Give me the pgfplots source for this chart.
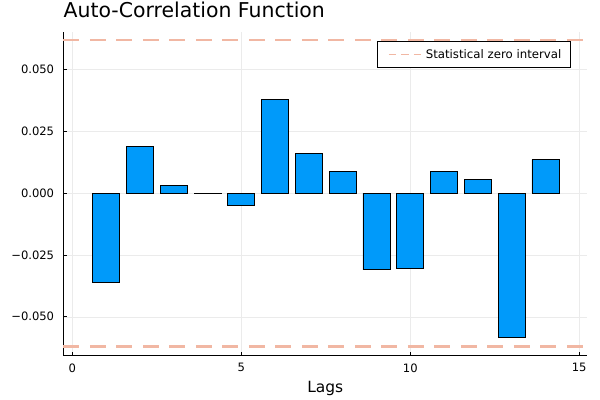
\documentclass[border=0pt]{standalone}
\usepackage{pgfplots}
\pgfplotsset{compat=1.18}
\usepackage{fontspec}
\setmainfont{DejaVu Sans}
\definecolor{barblue}{RGB}{0,154,250}
\definecolor{salmon}{RGB}{241,183,163}
\begin{document}
\begin{tikzpicture}
\useasboundingbox (0,0) rectangle (600bp,400bp);
\begin{axis}[
  at={(63.3bp,44.7bp)}, anchor=south west,
  scale only axis, width=523.7bp, height=323.6bp,
  xmin=-0.27, xmax=15.23, ymin=-0.0656, ymax=0.0654,
  axis x line*=bottom, axis y line*=left,
  axis line style={line width=0.9bp, black},
  xtick={0,5,10,15}, xticklabels={0,5,10,15},
  ytick={-0.05,-0.025,0,0.025,0.05},
  yticklabels={−0.050,−0.025,0.000,0.025,0.050},
  scaled y ticks=false,
  tick align=inside, major tick length=3.5bp,
  tick style={line width=0.8bp, black},
  ticklabel style={font=\fontsize{11.6}{13}\selectfont},
  yticklabel style={anchor=east, inner sep=0pt, xshift=-9bp},
  xticklabel style={anchor=north, inner sep=0pt, yshift=-8bp},
  grid=major, major grid style={line width=0.5bp, black!8},
  legend style={at={(0.969,0.970)}, anchor=north east, draw=black,
    line width=0.8bp, fill=white, font=\fontsize{11.8}{14}\selectfont,
    inner xsep=7bp, inner ysep=5.5bp},
  legend image code/.code={\path[draw=none] (-4bp,0bp) -- (35bp,0bp);\draw[#1, line width=1.3bp, dash pattern=on 7.5bp off 5bp] (0bp,0bp) -- (33bp,0bp);},
  clip=false,
]
\addplot[ybar, bar width=0.8, bar shift=0pt, fill=barblue, draw=black, line width=0.8bp, forget plot] coordinates {
(1,-0.0362) (2,0.0191) (3,0.0031) (4,-0.0002) (5,-0.0049) (6,0.0379) (7,0.0161)
(8,0.0088) (9,-0.0310) (10,-0.0304) (11,0.0090) (12,0.0055) (13,-0.0583) (14,0.0136)
};
\addplot[salmon, line width=2.3bp, dash pattern=on 16bp off 10.5bp] coordinates {(-0.27,0.0620) (15.23,0.0620)};
\addlegendentry{Statistical zero interval}
\addplot[salmon, line width=2.3bp, dash pattern=on 16bp off 10.5bp, forget plot] coordinates {(-0.27,-0.0620) (15.23,-0.0620)};
\end{axis}
\node[anchor=base west, inner sep=0pt, font=\fontsize{20.5}{24}\selectfont] at (63.5bp,382.7bp) {Auto-Correlation Function};
\node[anchor=base, inner sep=0pt, font=\fontsize{15.5}{18}\selectfont] at (325.3bp,7.7bp) {Lags};
\end{tikzpicture}
\end{document}
